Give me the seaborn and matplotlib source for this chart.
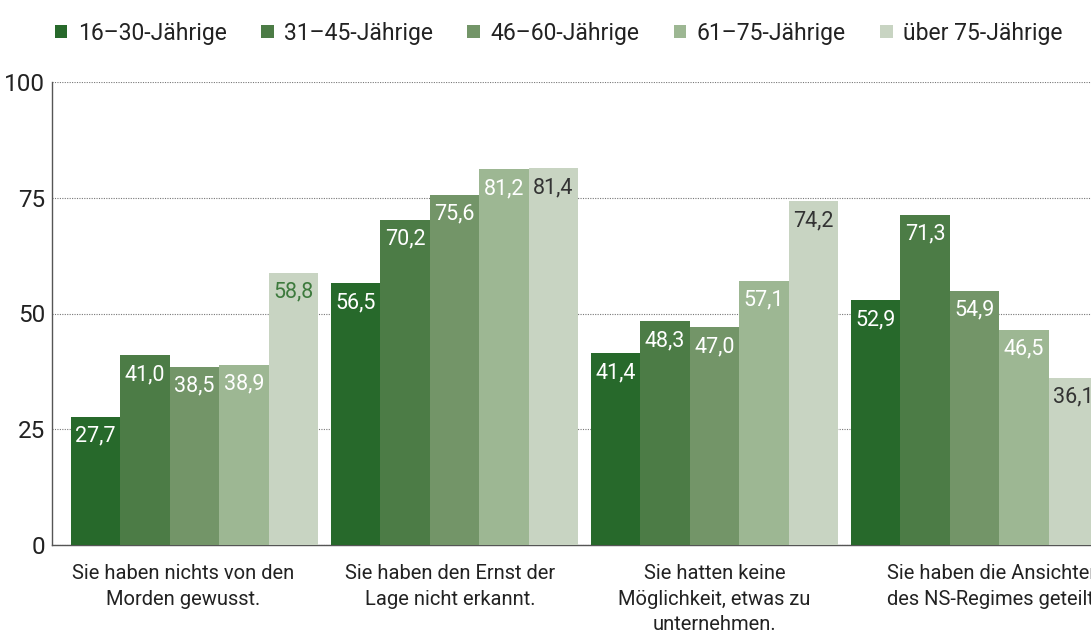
import pandas as pd
import numpy as np
import matplotlib
matplotlib.use("Agg")
import matplotlib.pyplot as plt
import matplotlib.transforms as mtransforms
import seaborn as sns

# data
gruende = [
    "Sie haben nichts von den\nMorden gewusst.",
    "Sie haben den Ernst der\nLage nicht erkannt.",
    "Sie hatten keine\nMöglichkeit, etwas zu\nunternehmen.",
    "Sie haben die Ansichten\ndes NS-Regimes geteilt.",
]
altersgruppen = ["16–30-Jährige", "31–45-Jährige", "46–60-Jährige", "61–75-Jährige", "über 75-Jährige"]
werte_16_30 = [27.7, 56.5, 41.4, 52.9]
werte_31_45 = [41.0, 70.2, 48.3, 71.3]
werte_46_60 = [38.5, 75.6, 47.0, 54.9]
werte_61_75 = [38.9, 81.2, 57.1, 46.5]
werte_ueber_75 = [58.8, 81.4, 74.2, 36.1]

farben = ["#27692b", "#4c7c46", "#739568", "#9db793", "#c8d4c2"]
label_farben = ["white", "white", "white", "white", "#333333"]

alle = [werte_16_30, werte_31_45, werte_46_60, werte_61_75, werte_ueber_75]
rows = []
for gruppe, werte in zip(altersgruppen, alle):
    for g, v in zip(gruende, werte):
        rows.append({"Grund": g, "Alter": gruppe, "Wert": v})
df = pd.DataFrame(rows)

sns.set_style("white")
plt.rcParams["font.family"] = ["Roboto", "DejaVu Sans"]

fig = plt.figure(figsize=(10.91, 6.38), dpi=100)
ax = fig.add_axes([52 / 1091, 93 / 638, 1 - 52 / 1091, 463 / 638])

sns.barplot(data=df, x="Grund", y="Wert", hue="Alter", palette=farben,
            saturation=1, width=0.95, linewidth=0, ax=ax, zorder=3)

ax.set_ylim(0, 100)
ax.set_xlim(-0.548, 3.448)
ax.set_yticks([0, 25, 50, 75, 100])
ax.tick_params(axis="y", labelsize=17.5, colors="#222222", length=0, pad=5)
ax.tick_params(axis="x", labelsize=14.5, colors="#222222", length=0, pad=14)
ax.set_xlabel("")
ax.set_ylabel("")
ax.set_axisbelow(True)
ax.yaxis.grid(True, linestyle=(0, (1, 1.2)), color="#777777", linewidth=0.8)
ax.xaxis.grid(False)

for s in ["top", "right"]:
    ax.spines[s].set_visible(False)
for s in ["left", "bottom"]:
    ax.spines[s].set_color("#555555")
    ax.spines[s].set_linewidth(1.0)

# category labels sit a bit off the group centres in the original
verschiebung = [-11, -4, 0, 19]
for lbl, dx in zip(ax.get_xticklabels(), verschiebung):
    lbl.set_linespacing(1.42)
    lbl.set_transform(lbl.get_transform() + mtransforms.ScaledTranslation(dx / 100, 0, fig.dpi_scale_trans))

# value labels inside the top of each bar
for i, cont in enumerate(ax.containers):
    for j, bar in enumerate(cont):
        v = alle[i][j]
        farbe = label_farben[i]
        if i == 4 and j == 0:
            farbe = "#3d7a3d"
        ax.annotate(f"{v:.1f}".replace(".", ","),
                    (bar.get_x() + bar.get_width() / 2, bar.get_height()),
                    xytext=(0, -14), textcoords="offset points",
                    ha="center", va="center", fontsize=15.5, color=farbe,
                    zorder=4, annotation_clip=False)

handles, labels = ax.get_legend_handles_labels()
ax.legend(handles, labels, loc="center", bbox_to_anchor=(0.512, 0.948),
          bbox_transform=fig.transFigure, ncol=5, frameon=False,
          fontsize=16.5, handlelength=0.55, handleheight=0.55,
          handletextpad=0.45, columnspacing=1.5, labelcolor="#222222")

fig.savefig("out.png", dpi=100)
